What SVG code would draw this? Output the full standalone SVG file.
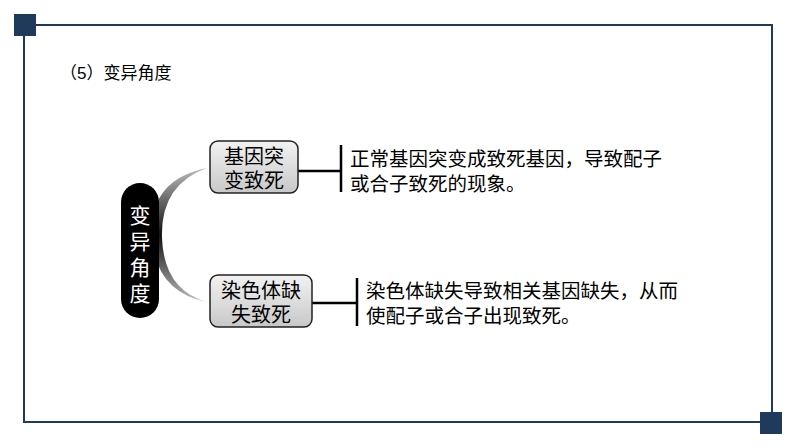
<svg xmlns="http://www.w3.org/2000/svg" width="794" height="447" viewBox="0 0 794 447">
<defs>
<style>
.t{font-family:"Liberation Sans","Noto Sans CJK SC",sans-serif;fill:#000}
.b{fill:url(#g);stroke:#222;stroke-width:1.5}
.c{stroke:#000;stroke-width:2.5;fill:none}
</style>
<linearGradient id="g" x1="0" y1="0" x2="0" y2="1"><stop offset="0" stop-color="#f2f2f2"/><stop offset="1" stop-color="#c8c8c8"/></linearGradient>
<linearGradient id="cr" x1="0" y1="0" x2="0" y2="1"><stop offset="0" stop-color="#bbb"/><stop offset="0.5" stop-color="#111"/><stop offset="1" stop-color="#bbb"/></linearGradient>
</defs>
<rect width="794" height="447" fill="#fff"/>
<rect x="24" y="25" width="748" height="397" fill="none" stroke="#1f3a5a" stroke-width="2"/>
<rect x="14" y="14" width="22" height="22" fill="#1f3a5a"/>
<rect x="760" y="412" width="22" height="22" fill="#1f3a5a"/>
<text class="t" x="60" y="79" font-size="17">（5）变异角度</text>
<g id="connectors">
<path d="M207,168 Q148,180 152,238 Q156,292 207,302 Q164,290 162,238 Q160,185 207,168Z" fill="url(#cr)"/>
<path class="c" d="M298,171H341M341,145V192"/>
<path class="c" d="M312,303H357M357,278V326"/>
</g>
<g id="root"><rect x="121" y="183" width="38" height="135" rx="19" fill="#000"/>
<text x="140" y="223" font-size="21" fill="#fff" text-anchor="middle" font-family="Liberation Sans,Noto Sans CJK SC,sans-serif"><tspan x="140">变</tspan><tspan x="140" dy="26">异</tspan><tspan x="140" dy="26">角</tspan><tspan x="140" dy="26">度</tspan></text></g>
<g id="n1"><rect class="b" x="210" y="141" width="88" height="52" rx="8"/>
<text class="t" font-size="20" text-anchor="middle"><tspan x="254" y="164">基因突</tspan><tspan x="254" y="188">变致死</tspan></text></g>
<g id="n2"><rect class="b" x="210" y="275" width="102" height="52" rx="8"/>
<text class="t" font-size="20" text-anchor="middle"><tspan x="261" y="298">染色体缺</tspan><tspan x="261" y="322">失致死</tspan></text></g>
<g id="d1"><text class="t" font-size="19.5"><tspan x="350" y="166">正常基因突变成致死基因，导致配子</tspan><tspan x="350" y="191">或合子致死的现象。</tspan></text></g>
<g id="d2"><text class="t" font-size="19.5"><tspan x="366" y="298">染色体缺失导致相关基因缺失，从而</tspan><tspan x="366" y="323">使配子或合子出现致死。</tspan></text></g>
</svg>
